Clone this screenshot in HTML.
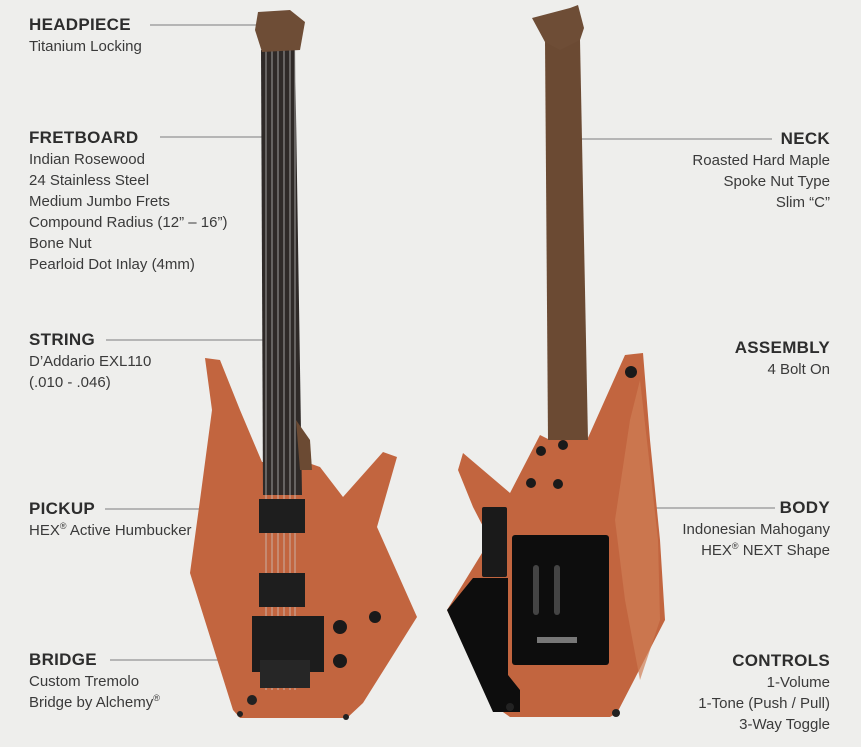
<!DOCTYPE html>
<html><head><meta charset="utf-8"><style>
html,body{margin:0;padding:0}
body{width:861px;height:747px;background:#eeeeec;position:relative;overflow:hidden;font-family:"Liberation Sans",sans-serif;color:#333}
.t{position:absolute;font-size:15px;line-height:21px;color:#3a3a3a}
.t b{font-size:17px;color:#2d2d2d;display:block;line-height:22px;letter-spacing:0.3px}
.t sup{font-size:9px;line-height:0;vertical-align:6px}
.r{text-align:right;right:31px}
.l{left:29px}
</style></head><body>
<svg width="861" height="747" style="position:absolute;left:0;top:0">
<g stroke="#b5b5b5" stroke-width="2">
<line x1="150" y1="25" x2="257" y2="25"/>
<line x1="160" y1="137" x2="268" y2="137"/>
<line x1="106" y1="340" x2="285" y2="340"/>
<line x1="105" y1="509" x2="265" y2="509"/>
<line x1="110" y1="660" x2="265" y2="660"/>
<line x1="565" y1="139" x2="772" y2="139"/>
<line x1="577" y1="508" x2="775" y2="508"/>
</g>
<!-- front guitar -->
<polygon points="205,358 220,360 240,410 262,462 300,460 320,467 343,497 383,452 397,457 377,527 417,617 363,703 347,718 240,718 233,710 190,573 200,500 212,410" fill="#c2653f"/>
<polygon points="261,50 295,50 302,495 263,495" fill="#2f2a28"/>
<polygon points="296,420 310,440 312,470 300,470" fill="#6b4a33"/>
<g stroke="#cfcfcf" stroke-width="0.7">
<line x1="266" y1="50" x2="266" y2="690"/><line x1="272" y1="50" x2="272" y2="690"/><line x1="278" y1="50" x2="278" y2="690"/><line x1="284" y1="50" x2="284" y2="690"/><line x1="290" y1="50" x2="290" y2="690"/><line x1="295" y1="50" x2="295" y2="690"/>
</g>
<path d="M258 12 L290 10 L305 22 L300 50 L262 52 L255 30 Z" fill="#6e4d36"/>
<rect x="259" y="499" width="46" height="34" fill="#1e1e1e"/>
<rect x="259" y="573" width="46" height="34" fill="#1e1e1e"/>
<rect x="252" y="616" width="72" height="56" fill="#1c1c1c"/>
<rect x="260" y="660" width="50" height="28" fill="#262626"/>
<circle cx="340" cy="627" r="7" fill="#1a1a1a"/><circle cx="340" cy="661" r="7" fill="#1a1a1a"/><circle cx="375" cy="617" r="6" fill="#1a1a1a"/>
<circle cx="252" cy="700" r="5" fill="#222"/><circle cx="240" cy="714" r="3" fill="#222"/><circle cx="346" cy="717" r="3" fill="#222"/>
<!-- back guitar -->
<polygon points="643,353 625,355 587,440 550,440 540,435 510,493 463,453 458,470 473,507 490,540 447,610 490,703 510,717 610,717 617,713 665,620 660,540 650,440" fill="#c2653f"/>
<polygon points="640,380 648,450 658,540 660,620 640,680 625,600 615,520 630,420" fill="#cf7d55" opacity="0.7"/>
<polygon points="545,40 580,40 588,440 548,440" fill="#6b4a33"/>
<path d="M532 18 L570 8 L578 5 L584 28 L580 40 L560 50 L545 42 Z" fill="#6e4d36"/>
<g fill="#1a1a1a"><circle cx="541" cy="451" r="5"/><circle cx="563" cy="445" r="5"/><circle cx="531" cy="483" r="5"/><circle cx="558" cy="484" r="5"/><circle cx="631" cy="372" r="6"/></g>
<rect x="482" y="507" width="25" height="70" rx="2" fill="#1a1a1a"/>
<rect x="512" y="535" width="97" height="130" rx="3" fill="#0d0d0d"/>
<rect x="533" y="565" width="6" height="50" rx="3" fill="#444"/><rect x="554" y="565" width="6" height="50" rx="3" fill="#444"/>
<rect x="537" y="637" width="40" height="6" fill="#777"/>
<polygon points="473,578 508,578 508,675 520,690 520,712 493,712 447,610" fill="#0d0d0d"/>
<circle cx="510" cy="707" r="4" fill="#222"/><circle cx="616" cy="713" r="4" fill="#222"/>
</svg>
<div class="t l" style="top:14px"><b>HEADPIECE</b>Titanium Locking</div>
<div class="t l" style="top:127px"><b>FRETBOARD</b>Indian Rosewood<br>24 Stainless Steel<br>Medium Jumbo Frets<br>Compound Radius (12” – 16”)<br>Bone Nut<br>Pearloid Dot Inlay (4mm)</div>
<div class="t l" style="top:329px"><b>STRING</b>D’Addario EXL110<br>(.010 - .046)</div>
<div class="t l" style="top:498px"><b>PICKUP</b>HEX<sup>®</sup> Active Humbucker</div>
<div class="t l" style="top:649px"><b>BRIDGE</b>Custom Tremolo<br>Bridge by Alchemy<sup>®</sup></div>
<div class="t r" style="top:128px"><b>NECK</b>Roasted Hard Maple<br>Spoke Nut Type<br>Slim “C”</div>
<div class="t r" style="top:337px"><b>ASSEMBLY</b>4 Bolt On</div>
<div class="t r" style="top:497px"><b>BODY</b>Indonesian Mahogany<br>HEX<sup>®</sup> NEXT Shape</div>
<div class="t r" style="top:650px"><b>CONTROLS</b>1-Volume<br>1-Tone (Push / Pull)<br>3-Way Toggle</div>
</body></html>
